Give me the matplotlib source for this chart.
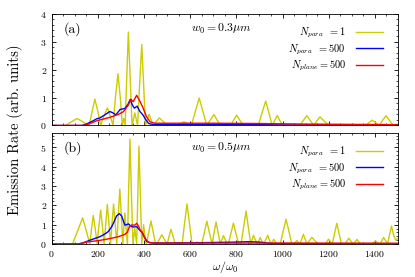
import matplotlib
matplotlib.use("Agg")
import matplotlib.pyplot as plt

plt.rcParams['font.family'] = 'serif'
plt.rcParams['font.serif'] = ['cmr10']
plt.rcParams['mathtext.fontset'] = 'cm'
plt.rcParams['axes.formatter.use_mathtext'] = True

# ---- panel (a): w0 = 0.3 um ----
a_yel_x = [0, 40, 60, 85, 110, 135, 162, 175, 187, 200, 212, 226, 241, 254, 266, 276, 287, 297, 306,
           312, 318, 325, 332, 340, 348, 360, 372, 381, 390, 398, 406, 414, 422, 431, 440, 453, 466, 483, 500,
           522, 545, 559, 573, 589, 605, 622, 639, 655, 672, 687, 703, 716, 730, 752, 775, 788, 801, 815, 830,
           862, 895, 911, 927, 941, 955, 966, 977, 988, 1000, 1035, 1075, 1090, 1105, 1120, 1135, 1148, 1162,
           1180, 1200, 1240, 1290, 1340, 1360, 1374, 1388, 1403, 1420, 1433, 1448, 1463, 1480, 1500]
a_yel_y = [0, 0, 0, .13, .25, .13, 0, .5, .94, .5, 0, .33, .63, .33, 0, 1.0, 1.85, 1.0, 0,
           .25, 0, 1.7, 3.34, 1.7, 0, .45, 0, 1.5, 2.89, 1.5, 0, .2, .4, .2, 0, .14, .27, .14, 0,
           .05, 0, .07, .13, .07, 0, .5, .98, .5, 0, .2, .39, .2, 0, .04, 0, .19, .37, .19, 0,
           .03, 0, .45, .87, .45, 0, .18, .36, .18, 0, -.02, 0, .18, .35, .18, 0, .16, .31,
           .16, 0, -.02, -.03, 0, 0, .1, .19, .1, 0, .18, .35, .18, 0, .05]

a_blue_x = [0, 130, 150, 180, 195, 209, 230, 252, 265, 278, 296, 317, 330, 340, 350, 358, 370, 382, 395,
            408, 420, 440, 600, 800, 900, 1000, 1500]
a_blue_y = [0, 0, .05, .17, .24, .27, .38, .5, .45, .38, .57, .61, .75, .93, .72, .62, .69, .5, .38,
            .2, .07, .03, .03, .04, .03, .02, .02]

a_red_x = [0, 140, 170, 195, 252, 290, 310, 332, 343, 353, 368, 380, 394, 411, 426, 447, 700, 900, 1100, 1500]
a_red_y = [0, 0, .08, .17, .29, .4, .49, .73, .94, .85, 1.08, .9, .66, .31, .13, .08, .08, .07, .05, .03]

# ---- panel (b): w0 = 0.5 um ----
b_yel_x = [0, 90, 112, 134, 150, 165, 172, 180, 189, 197, 204, 212, 220, 227, 234, 241, 248, 255,
           261, 268, 275, 282, 288, 295, 302, 308, 312, 317, 322, 328, 333, 339, 345, 352, 360, 368,
           373, 378, 384, 390, 394, 398, 403, 410, 420, 430, 440, 450, 455, 466, 477, 488, 500,
           508, 517, 526, 535, 550, 565, 575, 586, 597, 608, 630, 650, 661, 672, 683, 695, 703, 712, 721, 730,
           737, 744, 752, 760, 765, 776, 787, 798, 810, 820, 831, 842, 852, 862, 868, 874, 882, 890,
           897, 903, 910, 918, 927, 936, 943, 950, 956, 962, 968, 975, 990, 1002, 1015, 1028, 1040,
           1050, 1062, 1075, 1083, 1090, 1098, 1105, 1116, 1127, 1140, 1155, 1185, 1199, 1215, 1225, 1235,
           1245, 1255, 1270, 1287, 1305, 1308, 1322, 1338, 1385, 1402, 1420, 1422, 1438, 1455, 1463, 1472,
           1481, 1490, 1500]
b_yel_y = [0, 0, .68, 1.35, .68, 0, .74, 1.48, .74, 0, .88, 1.76, .88, 0, 1.02, 2.05, 1.02, 0,
           1.03, 2.06, 1.03, 0, 1.42, 2.84, 1.42, 0, .8, 1.6, .8, 0, 2.7, 5.42, 2.7, 0, .8, 0,
           2.5, 5.06, 2.5, 0, .5, 1.0, .5, 0, .6, 1.19, .6, 0, 0, .24, .48, .24, 0,
           .38, .76, .38, 0, .05, 0, 1.03, 2.07, 1.03, 0, .1, 0, .6, 1.18, .6, 0, .57, 1.14, .57, 0,
           .22, .44, .22, 0, 0, .54, 1.08, .54, 0, 0, .85, 1.7, .85, 0, .22, .45, .22, 0,
           .16, .33, .16, 0, .22, .45, .22, 0, .12, .24, .12, 0, 0, .64, 1.28, .64, 0,
           0, .18, 0, .25, .5, .25, 0, .17, .35, .17, 0, 0, .25, 0, .53, 1.07,
           .53, 0, 0, .3, 0, 0, .24, 0, 0, .16, 0, 0, .34, 0, .46, .93,
           .46, .2, .3]

b_blue_x = [0, 115, 140, 166, 190, 209, 230, 245, 260, 267, 281, 293, 303, 310, 317, 325, 332, 346, 355,
            368, 382, 392, 400, 411, 426, 450, 600, 700, 800, 850, 900, 950, 1100, 1500]
b_blue_y = [0, 0, .08, .2, .3, .38, .52, .64, .9, 1.07, 1.45, 1.57, 1.45, 1.2, .98, 1.0, 1.04, .9, .88,
            .9, .7, .6, .38, .14, .06, .05, .06, .08, .1, .12, .1, .03, .02, .02]

b_red_x = [0, 120, 150, 209, 252, 289, 317, 328, 336, 346, 361, 368, 375, 382, 394, 404, 418, 440, 1000, 1500]
b_red_y = [0, 0, .1, .19, .28, .38, .5, .62, .88, .98, .98, 1.07, .95, .75, .55, .3, .1, .05, .05, .04]

labels = [r'$N_{para}\;\;= 1$', r'$N_{para}\;\;= 500$', r'$N_{plane} = 500$']
yel = '#cccc00'
blue = '#0000ff'
red = '#ff0000'

fig = plt.figure(figsize=(4.15, 2.77), dpi=100)
ax1 = fig.add_axes([0.1246, 0.547, 0.8344, 0.404])
ax2 = fig.add_axes([0.1246, 0.119, 0.8344, 0.402])

panels = [
    (ax1, a_yel_x, a_yel_y, a_blue_x, a_blue_y, a_red_x, a_red_y, 4, '(a)', r'$w_0 = 0.3\mu m$'),
    (ax2, b_yel_x, b_yel_y, b_blue_x, b_blue_y, b_red_x, b_red_y, 5.75, '(b)', r'$w_0 = 0.5\mu m$'),
]

for ax, yx, yy, bx, by, rx, ry, ytop, tag, wtxt in panels:
    ax.plot(yx, yy, color=yel, lw=1.0, label=labels[0])
    ax.plot(bx, by, color=blue, lw=1.0, label=labels[1])
    ax.plot(rx, ry, color=red, lw=1.0, label=labels[2])
    ax.set_xlim(0, 1500)
    ax.set_ylim(0, ytop)
    ax.set_xticks(range(0, 1501, 200))
    ax.set_xticks(range(0, 1501, 50), minor=True)
    ax.set_yticks(range(0, int(ytop) + 1))
    ax.set_yticks([i * 0.2 for i in range(int(ytop * 5) + 1)], minor=True)
    ax.tick_params(which='both', direction='in', top=True, right=True, labelsize=7)
    ax.tick_params(which='major', length=3, width=0.6)
    ax.tick_params(which='minor', length=1.6, width=0.5)
    for s in ax.spines.values():
        s.set_linewidth(0.6)
    ax.text(0.035, 0.86, tag, transform=ax.transAxes, fontsize=10, va='center')
    ax.text(0.49, 0.86, wtxt, transform=ax.transAxes, fontsize=8.5, va='center', ha='center')
    ax.legend(loc='upper right', bbox_to_anchor=(0.985, 0.975), frameon=False, markerfirst=False,
              fontsize=7.5, handlelength=2.6, labelspacing=0.2, handletextpad=1.0)

ax1.tick_params(labelbottom=False)
ax2.set_xlabel(r'$\omega/\omega_0$', fontsize=8.5, labelpad=0)
fig.text(0.035, 0.53, 'Emission Rate (arb. units)', rotation=90, fontsize=10.5, va='center', ha='center')

fig.savefig('out.png', dpi=100)
